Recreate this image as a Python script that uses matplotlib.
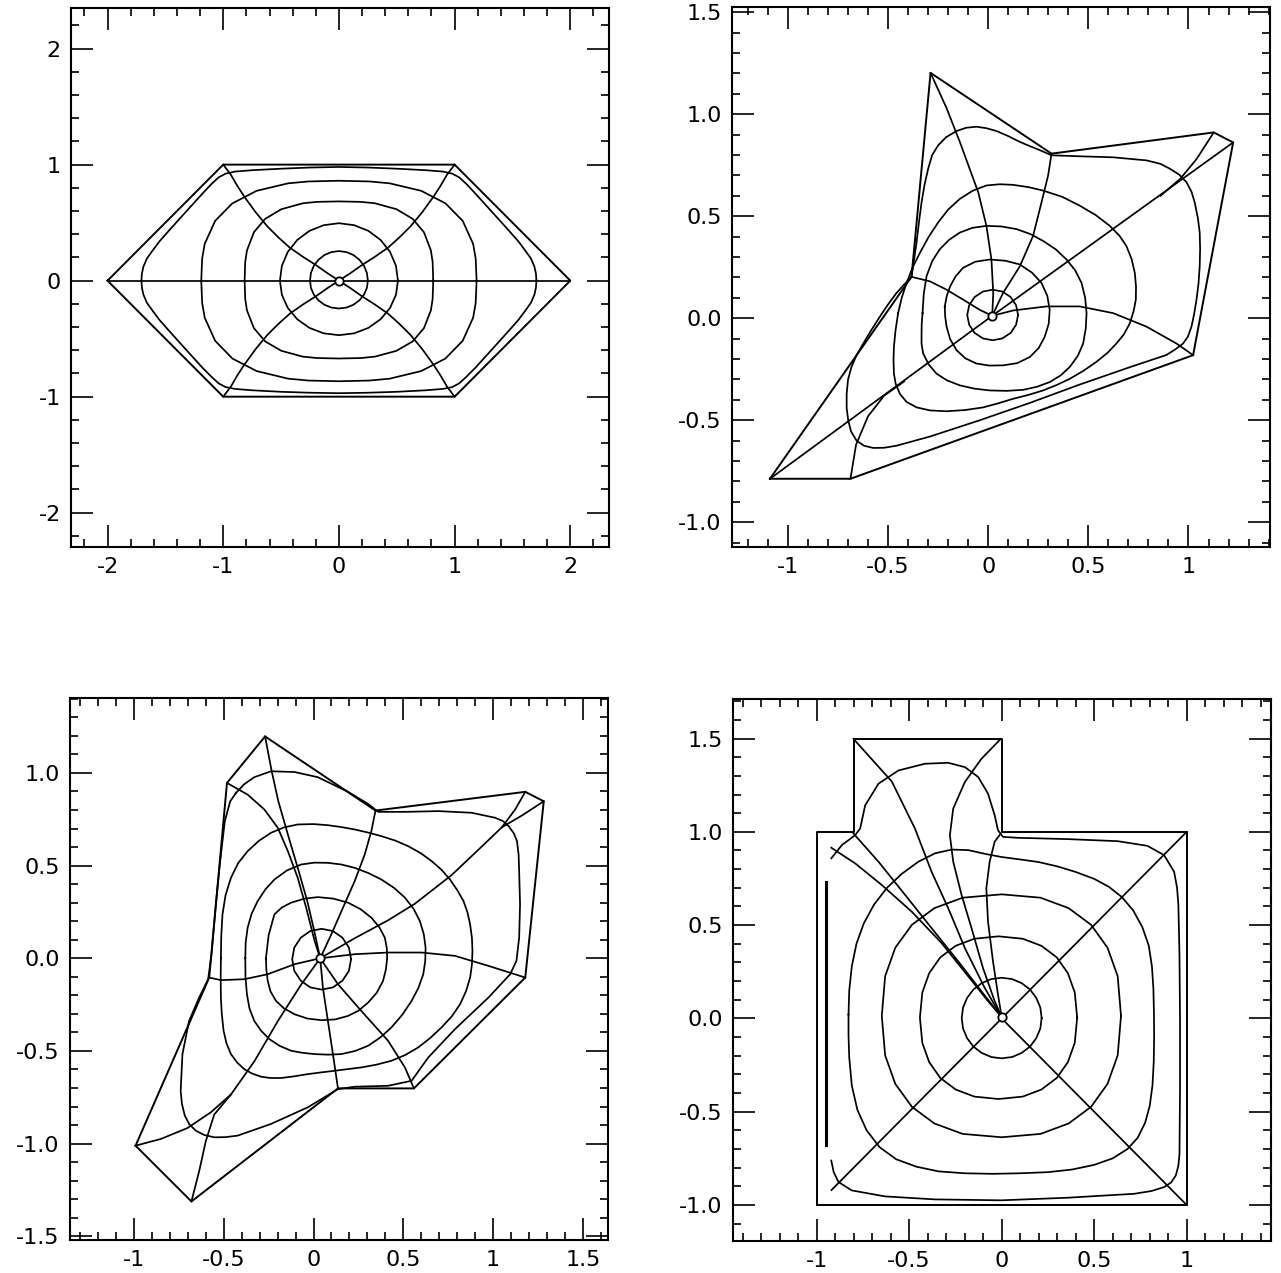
import numpy as np
import matplotlib
matplotlib.use("Agg")
import matplotlib.pyplot as plt
from matplotlib.ticker import FixedLocator, FixedFormatter, MultipleLocator

plt.rcParams['axes.unicode_minus'] = False
plt.rcParams['font.family'] = ['DejaVu Sans']

# ---------------- panel 1 : hexagon ----------------
hex_outline = [(-2, 0), (-1, 1), (1, 1), (2, 0), (1, -1), (-1, -1), (-2, 0)]
hex_rings = [
    [(0.25, 0), (0.242, 0.066), (0.217, 0.128), (0.177, 0.18), (0.125, 0.221), (0.065, 0.246), (0, 0.255),
     (-0.065, 0.246), (-0.125, 0.221), (-0.177, 0.18), (-0.217, 0.128), (-0.242, 0.066), (-0.25, 0),
     (-0.242, -0.062), (-0.217, -0.12), (-0.177, -0.17), (-0.125, -0.208), (-0.065, -0.232), (0, -0.24),
     (0.065, -0.232), (0.125, -0.208), (0.177, -0.17), (0.217, -0.12), (0.242, -0.062), (0.25, 0)],
    [(0.51, 0), (0.493, 0.128), (0.442, 0.248), (0.361, 0.35), (0.255, 0.429), (0.132, 0.478), (0, 0.495),
     (-0.132, 0.478), (-0.255, 0.429), (-0.361, 0.35), (-0.442, 0.248), (-0.493, 0.128), (-0.51, 0),
     (-0.493, -0.122), (-0.442, -0.235), (-0.361, -0.332), (-0.255, -0.407), (-0.132, -0.454), (0, -0.47),
     (0.132, -0.454), (0.255, -0.407), (0.361, -0.332), (0.442, -0.235), (0.493, -0.122), (0.51, 0)],
    [(0.815, 0), (0.81, 0.16), (0.795, 0.26), (0.735, 0.417), (0.637, 0.533), (0.497, 0.616), (0.311, 0.667),
     (0.19, 0.679), (0, 0.683), (-0.19, 0.679), (-0.311, 0.667), (-0.497, 0.616), (-0.637, 0.533),
     (-0.735, 0.417), (-0.795, 0.26), (-0.81, 0.16), (-0.815, 0), (-0.81, -0.157), (-0.795, -0.256),
     (-0.735, -0.409), (-0.637, -0.524), (-0.497, -0.605), (-0.311, -0.655), (-0.19, -0.667), (0, -0.671),
     (0.19, -0.667), (0.311, -0.655), (0.497, -0.605), (0.637, -0.524), (0.735, -0.409), (0.795, -0.256),
     (0.81, -0.157), (0.815, 0)],
    [(1.19, 0), (1.182, 0.191), (1.16, 0.317), (1.07, 0.515), (0.921, 0.666), (0.712, 0.774), (0.438, 0.839),
     (0.263, 0.855), (0, 0.861), (-0.263, 0.855), (-0.438, 0.839), (-0.712, 0.774), (-0.921, 0.666),
     (-1.07, 0.515), (-1.16, 0.317), (-1.182, 0.191), (-1.19, 0), (-1.182, -0.193), (-1.16, -0.319),
     (-1.07, -0.518), (-0.921, -0.671), (-0.712, -0.779), (-0.438, -0.845), (-0.263, -0.861), (0, -0.867),
     (0.263, -0.861), (0.438, -0.845), (0.712, -0.779), (0.921, -0.671), (1.07, -0.518), (1.16, -0.319),
     (1.182, -0.193), (1.19, 0)],
    [(1.707, 0), (1.703, 0.06), (1.69, 0.12), (1.66, 0.19), (1.61, 0.26), (1.55, 0.34), (1.47, 0.43),
     (1.38, 0.53), (1.28, 0.64), (1.18, 0.75), (1.1, 0.835), (1.04, 0.89), (0.98, 0.922), (0.9, 0.94),
     (0.75, 0.952), (0.5, 0.965), (0.25, 0.975), (0, 0.98), (-0.25, 0.975), (-0.5, 0.965), (-0.75, 0.952),
     (-0.9, 0.94), (-0.98, 0.922), (-1.04, 0.89), (-1.1, 0.835), (-1.18, 0.75), (-1.28, 0.64), (-1.38, 0.53),
     (-1.47, 0.43), (-1.55, 0.34), (-1.61, 0.26), (-1.66, 0.19), (-1.69, 0.12), (-1.703, 0.06), (-1.707, 0),
     (-1.703, -0.06), (-1.69, -0.12), (-1.66, -0.19), (-1.61, -0.26), (-1.55, -0.34), (-1.47, -0.43),
     (-1.38, -0.53), (-1.28, -0.64), (-1.18, -0.75), (-1.1, -0.83), (-1.04, -0.885), (-0.98, -0.917),
     (-0.9, -0.933), (-0.75, -0.945), (-0.5, -0.958), (-0.25, -0.966), (0, -0.97), (0.25, -0.966),
     (0.5, -0.958), (0.75, -0.945), (0.9, -0.933), (0.98, -0.917), (1.04, -0.885), (1.1, -0.83),
     (1.18, -0.75), (1.28, -0.64), (1.38, -0.53), (1.47, -0.43), (1.55, -0.34), (1.61, -0.26), (1.66, -0.19),
     (1.69, -0.12), (1.703, -0.06), (1.707, 0)],
]
hex_rays = [
    [(-2, 0), (2, 0)],
    [(0, 0), (0.1, 0.065), (0.2, 0.135), (0.31, 0.205), (0.425, 0.285), (0.52, 0.37), (0.618, 0.467),
     (0.72, 0.59), (0.819, 0.726), (0.88, 0.82), (0.934, 0.913), (1, 1)],
    [(0, 0), (-0.1, 0.065), (-0.2, 0.135), (-0.31, 0.205), (-0.425, 0.285), (-0.52, 0.37), (-0.618, 0.467),
     (-0.72, 0.59), (-0.819, 0.726), (-0.88, 0.82), (-0.934, 0.913), (-1, 1)],
    [(0, 0), (0.1, -0.065), (0.2, -0.135), (0.31, -0.205), (0.425, -0.285), (0.52, -0.37), (0.618, -0.467),
     (0.72, -0.59), (0.819, -0.726), (0.88, -0.82), (0.934, -0.913), (1, -1)],
    [(0, 0), (-0.1, -0.065), (-0.2, -0.135), (-0.31, -0.205), (-0.425, -0.285), (-0.52, -0.37), (-0.618, -0.467),
     (-0.72, -0.59), (-0.819, -0.726), (-0.88, -0.82), (-0.934, -0.913), (-1, -1)],
]
hex_center = (0, 0)

# ---------------- panel 2 ----------------
kite_outline = [(-1.09, -0.787), (-0.688, -0.787), (1.023, -0.181), (1.223, 0.862), (1.126, 0.911),
                (0.316, 0.807), (-0.288, 1.203), (-0.383, 0.203), (-1.09, -0.787)]
kite_rings = [
    [(0.149, 0.016), (0.139, 0.064), (0.112, 0.104), (0.07, 0.131), (0.022, 0.14), (-0.026, 0.131),
     (-0.068, 0.104), (-0.095, 0.064), (-0.105, 0.016), (-0.095, -0.032), (-0.068, -0.072), (-0.026, -0.099),
     (0.022, -0.108), (0.07, -0.099), (0.112, -0.072), (0.139, -0.032), (0.149, 0.016)],
    [(-0.217, 0.058), (-0.207, 0.11), (-0.19, 0.157), (-0.163, 0.205), (-0.126, 0.247), (-0.065, 0.277),
     (0.008, 0.288), (0.085, 0.282), (0.157, 0.264), (0.218, 0.224), (0.266, 0.173), (0.295, 0.11),
     (0.307, 0.041), (0.302, -0.027), (0.282, -0.091), (0.252, -0.146), (0.208, -0.19), (0.145, -0.22),
     (0.074, -0.231), (0.005, -0.232), (-0.059, -0.222), (-0.115, -0.196), (-0.158, -0.157), (-0.19, -0.103),
     (-0.208, -0.041), (-0.215, 0.008), (-0.217, 0.058)],
    [(-0.328, 0.025), (-0.322, 0.12), (-0.308, 0.206), (-0.28, 0.28), (-0.242, 0.338), (-0.196, 0.384),
     (-0.142, 0.42), (-0.08, 0.443), (-0.009, 0.453), (0.066, 0.45), (0.141, 0.437), (0.21, 0.413),
     (0.274, 0.379), (0.337, 0.338), (0.391, 0.288), (0.434, 0.235), (0.466, 0.173), (0.484, 0.1),
     (0.491, 0.025), (0.487, -0.05), (0.474, -0.124), (0.447, -0.185), (0.407, -0.239), (0.362, -0.28),
     (0.307, -0.313), (0.243, -0.336), (0.174, -0.351), (0.092, -0.356), (0.008, -0.354), (-0.07, -0.345),
     (-0.142, -0.329), (-0.205, -0.305), (-0.258, -0.272), (-0.297, -0.227), (-0.325, -0.173),
     (-0.333, -0.125), (-0.333, -0.074), (-0.332, -0.025), (-0.328, 0.025)],
    [(-0.45, 0.025), (-0.432, 0.1), (-0.408, 0.173), (-0.378, 0.248), (-0.341, 0.321), (-0.298, 0.398),
     (-0.25, 0.47), (-0.2, 0.533), (-0.142, 0.585), (-0.078, 0.625), (-0.009, 0.651), (0.058, 0.657),
     (0.124, 0.654), (0.2, 0.643), (0.274, 0.626), (0.37, 0.595), (0.457, 0.552), (0.535, 0.507),
     (0.607, 0.453), (0.655, 0.405), (0.69, 0.354), (0.716, 0.29), (0.732, 0.222), (0.738, 0.155),
     (0.737, 0.091), (0.726, 0.035), (0.707, -0.025), (0.678, -0.078), (0.64, -0.124), (0.595, -0.17),
     (0.54, -0.214), (0.475, -0.258), (0.407, -0.297), (0.34, -0.328), (0.274, -0.354), (0.2, -0.376),
     (0.124, -0.395), (0.05, -0.417), (-0.025, -0.437), (-0.115, -0.45), (-0.208, -0.456), (-0.29, -0.452),
     (-0.358, -0.437), (-0.408, -0.41), (-0.441, -0.371), (-0.462, -0.322), (-0.471, -0.272),
     (-0.473, -0.205), (-0.471, -0.14), (-0.463, -0.06), (-0.45, 0.025)],
    [(-0.383, 0.203), (-0.37, 0.29), (-0.358, 0.371), (-0.346, 0.47), (-0.333, 0.568), (-0.318, 0.655),
     (-0.3, 0.733), (-0.28, 0.8), (-0.25, 0.848), (-0.21, 0.888), (-0.158, 0.918), (-0.11, 0.934),
     (-0.059, 0.939), (-0.01, 0.932), (0.041, 0.918), (0.1, 0.893), (0.157, 0.865), (0.21, 0.843),
     (0.258, 0.824), (0.316, 0.799), (0.457, 0.794), (0.624, 0.789), (0.79, 0.774), (0.86, 0.757),
     (0.907, 0.733), (0.955, 0.703), (0.99, 0.667), (1.015, 0.62), (1.031, 0.568), (1.047, 0.49),
     (1.056, 0.42), (1.058, 0.34), (1.056, 0.255), (1.05, 0.17), (1.04, 0.091), (1.028, 0.02),
     (1.015, -0.041), (0.997, -0.09), (0.973, -0.124), (0.935, -0.152), (0.89, -0.18), (0.707, -0.24),
     (0.457, -0.325), (0.208, -0.415), (-0.042, -0.5), (-0.291, -0.58), (-0.458, -0.625), (-0.52, -0.635),
     (-0.574, -0.636), (-0.62, -0.625), (-0.657, -0.601), (-0.685, -0.555), (-0.699, -0.502),
     (-0.707, -0.44), (-0.707, -0.371), (-0.7, -0.3), (-0.683, -0.239), (-0.657, -0.18), (-0.624, -0.124),
     (-0.585, -0.06), (-0.541, 0.008), (-0.5, 0.068), (-0.458, 0.124), (-0.42, 0.165), (-0.383, 0.203)],
]
kite_rays = [
    [(-1.09, -0.787), (0.02, 0.012), (1.223, 0.862)],
    [(0.86, 0.60), (0.96, 0.685), (1.04, 0.78), (1.126, 0.911)],
    [(-0.688, -0.787), (-0.66, -0.62), (-0.6, -0.48), (-0.52, -0.38), (-0.42, -0.31)],
    [(0.02, 0.012), (0.025, 0.124), (0.016, 0.288), (-0.009, 0.453), (-0.05, 0.618), (-0.142, 0.865),
     (-0.208, 1.03), (-0.288, 1.203)],
    [(0.02, 0.012), (0.074, 0.124), (0.158, 0.255), (0.224, 0.404), (0.266, 0.568), (0.299, 0.7),
     (0.316, 0.807)],
    [(0.02, 0.012), (-0.042, 0.041), (-0.125, 0.091), (-0.208, 0.14), (-0.291, 0.181), (-0.383, 0.203)],
    [(0.02, 0.012), (0.124, 0.038), (0.291, 0.058), (0.457, 0.058), (0.624, 0.025), (0.79, -0.041),
     (0.94, -0.124), (1.023, -0.181)],
]
kite_center = (0.02, 0.012)

# ---------------- panel 3 ----------------
star_outline = [(-0.991, -1.011), (-0.68, -1.312), (0.136, -0.702), (0.559, -0.702), (1.179, -0.104),
                (1.282, 0.847), (1.179, 0.898), (0.345, 0.797), (-0.27, 1.197), (-0.482, 0.946),
                (-0.581, -0.104), (-0.991, -1.011)]
star_rings = [
    [(0.209, -0.005), (0.197, 0.058), (0.161, 0.111), (0.108, 0.147), (0.045, 0.159), (-0.018, 0.147),
     (-0.071, 0.111), (-0.107, 0.058), (-0.119, -0.005), (-0.107, -0.068), (-0.071, -0.121), (-0.018, -0.157),
     (0.045, -0.169), (0.108, -0.157), (0.161, -0.121), (0.197, -0.068), (0.209, -0.005)],
    [(-0.265, 0), (-0.25, 0.125), (-0.218, 0.237), (-0.175, 0.275), (-0.125, 0.30), (-0.05, 0.322),
     (0.024, 0.33), (0.11, 0.322), (0.192, 0.30), (0.262, 0.265), (0.322, 0.219), (0.366, 0.168),
     (0.397, 0.111), (0.408, 0.055), (0.41, 0), (0.403, -0.06), (0.387, -0.122), (0.352, -0.186),
     (0.304, -0.239), (0.25, -0.283), (0.192, -0.311), (0.12, -0.33), (0.043, -0.334), (-0.035, -0.325),
     (-0.106, -0.302), (-0.165, -0.27), (-0.209, -0.23), (-0.24, -0.178), (-0.255, -0.122),
     (-0.263, -0.06), (-0.265, 0)],
    [(-0.38, 0), (-0.378, 0.085), (-0.367, 0.165), (-0.345, 0.24), (-0.311, 0.309), (-0.268, 0.372),
     (-0.218, 0.425), (-0.148, 0.474), (-0.069, 0.506), (0.005, 0.516), (0.08, 0.515), (0.155, 0.506),
     (0.229, 0.488), (0.305, 0.46), (0.378, 0.425), (0.448, 0.38), (0.509, 0.327), (0.557, 0.267),
     (0.592, 0.201), (0.614, 0.13), (0.624, 0.057), (0.622, -0.015), (0.611, -0.086), (0.584, -0.16),
     (0.546, -0.23), (0.494, -0.305), (0.434, -0.373), (0.372, -0.427), (0.304, -0.472), (0.232, -0.5),
     (0.155, -0.517), (0.08, -0.52), (0.006, -0.517), (-0.062, -0.51), (-0.125, -0.499), (-0.19, -0.472),
     (-0.246, -0.436), (-0.293, -0.39), (-0.33, -0.338), (-0.357, -0.27), (-0.371, -0.194), (-0.379, -0.1),
     (-0.38, 0)],
    [(-0.516, 0), (-0.514, 0.12), (-0.507, 0.237), (-0.49, 0.34), (-0.46, 0.434), (-0.42, 0.513),
     (-0.367, 0.578), (-0.305, 0.633), (-0.237, 0.677), (-0.165, 0.706), (-0.088, 0.722), (0, 0.724),
     (0.08, 0.718), (0.155, 0.708), (0.229, 0.695), (0.305, 0.678), (0.378, 0.659), (0.455, 0.635),
     (0.527, 0.605), (0.597, 0.567), (0.658, 0.524), (0.713, 0.477), (0.76, 0.425), (0.8, 0.368),
     (0.835, 0.309), (0.857, 0.248), (0.872, 0.183), (0.882, 0.11), (0.885, 0.039), (0.882, -0.034),
     (0.872, -0.104), (0.849, -0.178), (0.816, -0.248), (0.77, -0.313), (0.713, -0.373), (0.65, -0.43),
     (0.583, -0.481), (0.51, -0.522), (0.434, -0.553), (0.35, -0.574), (0.266, -0.589), (0.19, -0.598),
     (0.117, -0.607), (0.04, -0.616), (-0.032, -0.625), (-0.108, -0.637), (-0.181, -0.646), (-0.24, -0.646),
     (-0.292, -0.639), (-0.342, -0.622), (-0.386, -0.598), (-0.426, -0.562), (-0.46, -0.517),
     (-0.485, -0.458), (-0.501, -0.391), (-0.511, -0.3), (-0.516, -0.212), (-0.517, -0.1), (-0.516, 0)],
    [(-0.432, 0.892), (-0.385, 0.94), (-0.33, 0.977), (-0.237, 1.009), (-0.106, 1.005), (0.024, 0.977),
     (0.192, 0.898), (0.304, 0.833), (0.36, 0.79), (0.509, 0.79), (0.695, 0.794), (0.881, 0.785),
     (1.012, 0.758), (1.055, 0.74), (1.086, 0.713), (1.115, 0.675), (1.133, 0.632), (1.142, 0.56),
     (1.145, 0.47), (1.15, 0.291), (1.145, 0.111), (1.13, -0.014), (1.095, -0.086), (0.974, -0.212),
     (0.788, -0.382), (0.639, -0.535), (0.546, -0.661), (0.415, -0.688), (0.229, -0.693), (0.136, -0.706),
     (-0.032, -0.804), (-0.237, -0.894), (-0.423, -0.957), (-0.49, -0.965), (-0.553, -0.966),
     (-0.61, -0.953), (-0.656, -0.93), (-0.692, -0.895), (-0.717, -0.849), (-0.733, -0.785), (-0.74, -0.715),
     (-0.73, -0.517), (-0.693, -0.338), (-0.637, -0.212), (-0.587, -0.113), (-0.568, 0.022), (-0.544, 0.291),
     (-0.52, 0.524), (-0.494, 0.74), (-0.464, 0.847), (-0.432, 0.892)],
]
star_rays = [
    [(0.037, 0), (0.002, 0.156), (-0.035, 0.309), (-0.088, 0.488), (-0.143, 0.668), (-0.196, 0.847),
     (-0.233, 1.009), (-0.27, 1.197)],
    [(0.037, 0), (0.006, 0.093), (-0.041, 0.273), (-0.088, 0.434), (-0.143, 0.578), (-0.199, 0.704),
     (-0.274, 0.803), (-0.367, 0.883), (-0.482, 0.946)],
    [(0.037, 0), (0.099, 0.129), (0.164, 0.273), (0.229, 0.416), (0.285, 0.56), (0.322, 0.686), (0.345, 0.797)],
    [(0.037, 0), (0.229, 0.108), (0.415, 0.205), (0.564, 0.294), (0.769, 0.449), (0.9, 0.569), (1.049, 0.707),
     (1.123, 0.803), (1.179, 0.898)],
    [(1.049, 0.707), (1.16, 0.77), (1.282, 0.847)],
    [(0.037, 0), (0.229, 0.022), (0.415, 0.031), (0.602, 0.031), (0.788, 0.013), (0.974, -0.041),
     (1.179, -0.104)],
    [(0.037, 0), (0.136, -0.14), (0.266, -0.284), (0.415, -0.445), (0.509, -0.589), (0.559, -0.702)],
    [(0.037, 0), (0.052, -0.158), (0.08, -0.338), (0.108, -0.517), (0.136, -0.702)],
    [(0.037, 0), (-0.069, -0.142), (-0.199, -0.339), (-0.329, -0.555), (-0.46, -0.735), (-0.553, -0.843),
     (-0.60, -0.987), (-0.637, -1.149), (-0.68, -1.312)],
    [(-0.46, -0.735), (-0.572, -0.831), (-0.702, -0.916), (-0.851, -0.975), (-0.991, -1.011)],
    [(0.037, 0), (-0.106, -0.032), (-0.255, -0.086), (-0.386, -0.113), (-0.516, -0.118), (-0.581, -0.104)],
]
star_center = (0.037, 0)

# ---------------- panel 4 : L-shaped domain ----------------
ell_outline = [(-1, -1), (1, -1), (1, 1), (0, 1), (0, 1.5), (-0.8, 1.5), (-0.8, 1), (-1, 1), (-1, -1)]
ell_bar = [(-0.95, 0.733), (-0.95, -0.681)]
ell_rings = [
    [(0.216, 0.002), (0.209, 0.058), (0.187, 0.11), (0.153, 0.155), (0.108, 0.189), (0.056, 0.211), (0, 0.218),
     (-0.056, 0.211), (-0.108, 0.189), (-0.153, 0.155), (-0.187, 0.11), (-0.209, 0.058), (-0.216, 0.002),
     (-0.209, -0.054), (-0.187, -0.106), (-0.153, -0.151), (-0.108, -0.185), (-0.056, -0.207), (0, -0.214),
     (0.056, -0.207), (0.108, -0.185), (0.153, -0.151), (0.187, -0.106), (0.209, -0.054), (0.216, 0.002)],
    [(0.408, 0.004), (0.395, 0.139), (0.358, 0.242), (0.298, 0.327), (0.215, 0.389), (0.114, 0.427),
     (-0.017, 0.44), (-0.148, 0.427), (-0.249, 0.389), (-0.332, 0.327), (-0.392, 0.242), (-0.429, 0.139),
     (-0.442, 0.004), (-0.429, -0.131), (-0.392, -0.234), (-0.332, -0.319), (-0.249, -0.381),
     (-0.148, -0.419), (-0.017, -0.432), (0.114, -0.419), (0.215, -0.381), (0.298, -0.319), (0.358, -0.234),
     (0.395, -0.131), (0.408, 0.004)],
    [(0.645, 0.014), (0.627, 0.226), (0.572, 0.379), (0.483, 0.502), (0.362, 0.591), (0.21, 0.647), (0, 0.665),
     (-0.211, 0.647), (-0.364, 0.591), (-0.485, 0.502), (-0.575, 0.379), (-0.63, 0.226), (-0.648, 0.014),
     (-0.63, -0.198), (-0.575, -0.351), (-0.485, -0.474), (-0.364, -0.563), (-0.211, -0.619), (0, -0.637),
     (0.21, -0.619), (0.362, -0.563), (0.483, -0.474), (0.572, -0.351), (0.627, -0.198), (0.645, 0.014)],
    [(-0.828, 0.021), (-0.824, 0.15), (-0.81, 0.28), (-0.785, 0.4), (-0.745, 0.51), (-0.69, 0.61),
     (-0.62, 0.7), (-0.54, 0.775), (-0.45, 0.84), (-0.36, 0.885), (-0.27, 0.905), (-0.18, 0.902),
     (-0.09, 0.882), (0.0, 0.865), (0.1, 0.852), (0.2, 0.838), (0.3, 0.815), (0.4, 0.785), (0.5, 0.748),
     (0.58, 0.705), (0.65, 0.65), (0.71, 0.58), (0.76, 0.49), (0.795, 0.39), (0.812, 0.28), (0.82, 0.16),
     (0.823, 0.03), (0.824, -0.1), (0.822, -0.23), (0.815, -0.36), (0.8, -0.47), (0.775, -0.56),
     (0.735, -0.64), (0.68, -0.7), (0.6, -0.75), (0.5, -0.785), (0.38, -0.81), (0.25, -0.824), (0.1, -0.83),
     (-0.05, -0.833), (-0.2, -0.83), (-0.34, -0.82), (-0.46, -0.795), (-0.57, -0.755), (-0.66, -0.69),
     (-0.73, -0.6), (-0.78, -0.49), (-0.81, -0.36), (-0.824, -0.21), (-0.828, -0.09), (-0.828, 0.021)],
    [(-0.921, 0.858), (-0.864, 0.929), (-0.792, 0.982), (-0.765, 1.018), (-0.738, 1.142), (-0.666, 1.258),
     (-0.558, 1.329), (-0.415, 1.365), (-0.289, 1.37), (-0.199, 1.347), (-0.127, 1.294), (-0.074, 1.205),
     (-0.038, 1.089), (-0.02, 1.009), (0.007, 0.973), (0.088, 0.968), (0.357, 0.961), (0.627, 0.95),
     (0.788, 0.925), (0.878, 0.875), (0.932, 0.786), (0.948, 0.7), (0.955, 0.609), (0.961, 0.342),
     (0.964, -0.014), (0.964, -0.37), (0.961, -0.726), (0.955, -0.79), (0.941, -0.842), (0.915, -0.88),
     (0.878, -0.904), (0.81, -0.925), (0.716, -0.94), (0.357, -0.961), (-0.002, -0.975), (-0.361, -0.97),
     (-0.63, -0.954), (-0.81, -0.922), (-0.882, -0.877), (-0.908, -0.824), (-0.921, -0.762)],
]
ell_rays = [
    [(-0.92, -0.92), (1, 1)],
    [(0, 0), (1, -1)],
    [(-0.921, 0.915), (-0.792, 0.831), (-0.648, 0.715), (-0.487, 0.573), (-0.325, 0.404), (-0.181, 0.226),
     (-0.074, 0.093), (0, 0.007)],
    [(-0.801, 0.991), (-0.666, 0.84), (-0.522, 0.662), (-0.379, 0.484), (-0.235, 0.306), (-0.11, 0.146),
     (0, 0.007)],
    [(-0.801, 1.498), (-0.594, 1.27), (-0.469, 1.018), (-0.379, 0.786), (-0.289, 0.591), (-0.199, 0.377),
     (-0.092, 0.164), (0, 0.007)],
    [(-0.005, 1.498), (-0.11, 1.391), (-0.199, 1.267), (-0.262, 1.125), (-0.28, 0.982), (-0.262, 0.84),
     (-0.217, 0.662), (-0.163, 0.484), (-0.101, 0.27), (-0.038, 0.093), (0, 0.007)],
    [(-0.005, 0.991), (-0.038, 0.947), (-0.065, 0.84), (-0.083, 0.698), (-0.074, 0.52), (-0.047, 0.306),
     (-0.02, 0.128), (0, 0.007)],
]
ell_center = (0, 0.005)

# ---------------- axes settings ----------------
p1_ticks = [-2, -1, 0, 1, 2]
p1_labels = ['-2', '-1', '0', '1', '2']
p2_xticks = [-1, -0.5, 0, 0.5, 1]
p2_xlabels = ['-1', '-0.5', '0', '0.5', '1']
p2_yticks = [-1.0, -0.5, 0.0, 0.5, 1.0, 1.5]
p2_ylabels = ['-1.0', '-0.5', '0.0', '0.5', '1.0', '1.5']
p3_xticks = [-1, -0.5, 0, 0.5, 1, 1.5]
p3_xlabels = ['-1', '-0.5', '0', '0.5', '1', '1.5']
p3_yticks = [-1.5, -1.0, -0.5, 0.0, 0.5, 1.0]
p3_ylabels = ['-1.5', '-1.0', '-0.5', '0.0', '0.5', '1.0']

W, H = 1281, 1273
fig = plt.figure(figsize=(W / 100, H / 100), dpi=100)


def frame(left, top, right, bottom):
    return [left / W, 1 - bottom / H, (right - left) / W, (bottom - top) / H]


def draw(ax, outline, rings, rays, center, xlim, ylim, xt, xl, yt, yl, minor):
    lw = 1.25
    ax.plot(*np.array(outline).T, color='k', lw=1.4)
    for r in rings:
        ax.plot(*np.array(r).T, color='k', lw=lw)
    for r in rays:
        ax.plot(*np.array(r).T, color='k', lw=lw)
    ax.plot(center[0], center[1], 'o', ms=6, mfc='white', mec='k', mew=1.3, zorder=5)
    ax.set_xlim(*xlim)
    ax.set_ylim(*ylim)
    ax.xaxis.set_major_locator(FixedLocator(xt))
    ax.xaxis.set_major_formatter(FixedFormatter(xl))
    ax.yaxis.set_major_locator(FixedLocator(yt))
    ax.yaxis.set_major_formatter(FixedFormatter(yl))
    ax.xaxis.set_minor_locator(MultipleLocator(minor))
    ax.yaxis.set_minor_locator(MultipleLocator(minor))
    ax.tick_params(which='both', direction='in', top=True, right=True, width=1.2, colors='k')
    ax.tick_params(which='major', length=16, labelsize=16, pad=7)
    ax.tick_params(which='minor', length=6)
    for s in ax.spines.values():
        s.set_linewidth(1.5)


ax1 = fig.add_axes(frame(70.5, 8, 608.5, 547.5))
draw(ax1, hex_outline, hex_rings, hex_rays, hex_center, (-2.32, 2.33), (-2.30, 2.35),
     p1_ticks, p1_labels, p1_ticks, p1_labels, 0.2)

ax2 = fig.add_axes(frame(731.5, 7, 1270, 547.5))
draw(ax2, kite_outline, kite_rings, kite_rays, kite_center, (-1.282, 1.407), (-1.124, 1.526),
     p2_xticks, p2_xlabels, p2_yticks, p2_ylabels, 0.1)

ax3 = fig.add_axes(frame(69.5, 697.5, 607.5, 1240))
draw(ax3, star_outline, star_rings, star_rays, star_center, (-1.359, 1.637), (-1.52, 1.407),
     p3_xticks, p3_xlabels, p3_yticks, p3_ylabels, 0.1)

ax4 = fig.add_axes(frame(732.5, 699, 1270.5, 1241))
draw(ax4, ell_outline, ell_rings, ell_rays, ell_center, (-1.455, 1.453), (-1.193, 1.712),
     p2_xticks, p2_xlabels, p2_yticks, p2_ylabels, 0.1)
ax4.plot(*np.array(ell_bar).T, color='k', lw=2.2)

fig.savefig('out.png', dpi=100)
